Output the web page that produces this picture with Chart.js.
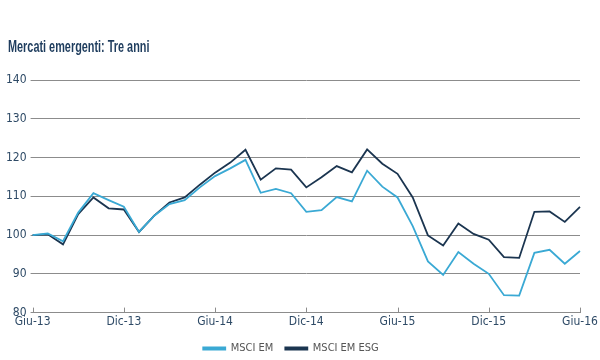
<!DOCTYPE html>
<html>
<head>
<meta charset="utf-8">
<script src="https://cdn.jsdelivr.net/npm/chart.js@4.4.1/dist/chart.umd.min.js"></script>
<style>
  html, body { margin: 0; padding: 0; background: #fff; }
  #wrap { position: relative; width: 600px; height: 360px; }
  #title {
    position: absolute; left: 8px; top: 38px;
    font: bold 16px 'Liberation Sans', Arial, sans-serif;
    color: #1f3d5e; white-space: nowrap;
    transform: scaleX(0.68); transform-origin: left top;
  }
</style>
</head>
<body>
<div id="wrap">
  <div id="title">Mercati emergenti: Tre anni</div>
  <canvas id="myChart" width="600" height="360"></canvas>
</div>
<script>
// Monthly, Giu-13 .. Giu-16 (37 points), indexed to 100
var months = ['Giu-13','Lug-13','Ago-13','Set-13','Ott-13','Nov-13','Dic-13',
  'Gen-14','Feb-14','Mar-14','Apr-14','Mag-14','Giu-14','Lug-14','Ago-14','Set-14','Ott-14','Nov-14','Dic-14',
  'Gen-15','Feb-15','Mar-15','Apr-15','Mag-15','Giu-15','Lug-15','Ago-15','Set-15','Ott-15','Nov-15','Dic-15',
  'Gen-16','Feb-16','Mar-16','Apr-16','Mag-16','Giu-16'];

var msciEm = [100, 100.4, 98.4, 105.8, 110.8, 109, 107.3, 100.8, 105, 108, 109, 112.3,
  115.2, 117.2, 119.4, 110.9, 111.9, 110.8, 106, 106.4, 109.8, 108.7, 116.6, 112.5,
  109.7, 102.3, 93.2, 89.7, 95.6, 92.6, 90, 84.5, 84.4, 95.4, 96.2, 92.6, 95.9];

var msciEmEsg = [100, 100.2, 97.6, 105.4, 109.7, 106.9, 106.6, 100.8, 105, 108.4, 109.7, 113,
  116.1, 118.7, 122, 114.3, 117.2, 116.9, 112.3, 114.9, 117.8, 116.2, 122.1, 118.4,
  115.8, 109.7, 99.9, 97.3, 103, 100.3, 98.8, 94.3, 94.1, 106, 106.1, 103.4, 107.3];

var yMin = 80, yMax = 140, yStep = 10;
var labelEvery = 6;

var narrow = "'Liberation Sans Narrow', 'Arial Narrow', 'DejaVu Sans Condensed', sans-serif";

// small upward tick marks on the x axis at each shown label
var xTicksUp = {
  id: 'xTicksUp',
  afterDraw: function(chart) {
    var x = chart.scales.x, ctx = chart.ctx;
    ctx.save();
    ctx.strokeStyle = '#8c8c8c';
    ctx.lineWidth = 1;
    for (var i = 0; i < months.length; i += labelEvery) {
      var px = Math.round(x.getPixelForValue(i)) + 0.5;
      ctx.beginPath();
      ctx.moveTo(px, x.top);
      ctx.lineTo(px, x.top - 5);
      ctx.stroke();
    }
    ctx.restore();
  }
};

var ctx = document.getElementById('myChart').getContext('2d');
new Chart(ctx, {
  type: 'line',
  data: {
    labels: months,
    datasets: [
      {
        label: 'MSCI EM',
        data: msciEm,
        borderColor: '#3aa9d4',
        backgroundColor: '#3aa9d4',
        borderWidth: 1.8,
        pointRadius: 0,
        tension: 0
      },
      {
        label: 'MSCI EM ESG',
        data: msciEmEsg,
        borderColor: '#1b3550',
        backgroundColor: '#1b3550',
        borderWidth: 1.8,
        pointRadius: 0,
        tension: 0
      }
    ]
  },
  options: {
    responsive: false,
    animation: false,
    layout: { padding: { left: 2, right: 20, top: 80, bottom: -4 } },
    plugins: {
      legend: {
        position: 'bottom',
        labels: {
          color: '#555',
          boxWidth: 22,
          boxHeight: 2,
          padding: 12,
          font: { family: narrow, size: 11 }
        }
      },
      tooltip: { enabled: false }
    },
    scales: {
      x: {
        offset: false,
        grid: { display: false, drawTicks: false },
        border: { display: true, color: '#8c8c8c', width: 1 },
        ticks: {
          autoSkip: false,
          maxRotation: 0,
          color: '#2e4a66',
          padding: 2,
          font: { family: narrow, size: 12 },
          callback: function(val, i) { return i % labelEvery === 0 ? months[i] : ''; }
        }
      },
      y: {
        min: yMin,
        max: yMax,
        grid: { color: '#8c8c8c', lineWidth: 1, tickLength: 2 },
        border: { display: false },
        ticks: {
          stepSize: yStep,
          color: '#2e4a66',
          padding: 4,
          font: { family: narrow, size: 12 }
        }
      }
    }
  },
  plugins: [xTicksUp]
});
</script>
</body>
</html>
